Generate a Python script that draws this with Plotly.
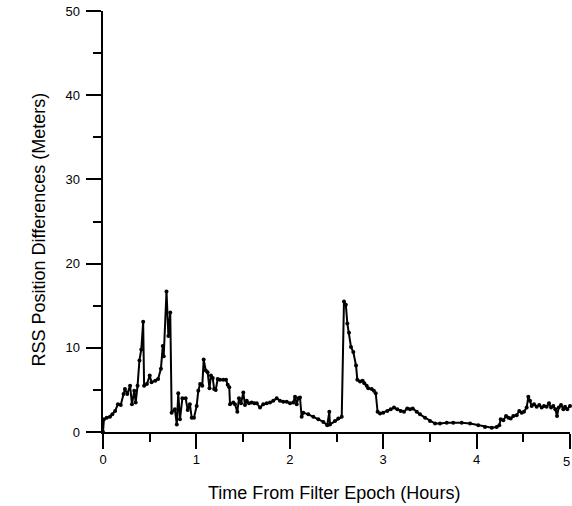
import plotly.graph_objects as go

hours = [0.0, 0.01, 0.04, 0.075, 0.10, 0.13, 0.16, 0.19, 0.22, 0.235, 0.26, 0.29, 0.31, 0.335, 0.35, 0.37,
         0.39, 0.41, 0.43, 0.44, 0.47, 0.50, 0.52, 0.56, 0.59, 0.62, 0.64, 0.65, 0.68, 0.70, 0.72,
         0.735, 0.77, 0.79, 0.806, 0.824, 0.85, 0.885, 0.907, 0.93, 0.95, 0.974, 1.003, 1.02, 1.04,
         1.063, 1.078, 1.10, 1.12, 1.14, 1.156, 1.175, 1.19, 1.207, 1.228, 1.253, 1.288, 1.317, 1.335,
         1.352, 1.36, 1.395, 1.413, 1.438, 1.456, 1.478, 1.502, 1.52, 1.539, 1.563, 1.592, 1.62,
         1.646, 1.681, 1.716, 1.753, 1.788, 1.823, 1.86, 1.895, 1.93, 1.967, 2.002, 2.037, 2.056,
         2.074, 2.091, 2.109, 2.127, 2.145, 2.198, 2.252, 2.305, 2.359, 2.401, 2.423, 2.43, 2.484,
         2.519, 2.556, 2.58, 2.6, 2.616, 2.634, 2.655, 2.68, 2.709, 2.723, 2.752, 2.78, 2.798, 2.823,
         2.84, 2.877, 2.9, 2.92, 2.94, 2.966, 3.0, 3.044, 3.08, 3.116, 3.151, 3.187, 3.223, 3.258,
         3.287, 3.316, 3.359, 3.394, 3.448, 3.501, 3.555, 3.608, 3.68, 3.75, 3.84, 3.93, 4.018, 4.09,
         4.162, 4.215, 4.243, 4.258, 4.286, 4.315, 4.34, 4.365, 4.393, 4.429, 4.457, 4.483, 4.507,
         4.536, 4.554, 4.572, 4.59, 4.615, 4.643, 4.671, 4.697, 4.722, 4.75, 4.775, 4.797, 4.821,
         4.843, 4.861, 4.879, 4.904, 4.929, 4.947, 4.971, 5.0]

rss_m = [0.0, 1.5, 1.7, 1.8, 2.1, 2.5, 3.3, 3.2, 4.5, 5.1, 4.5, 5.5, 3.3, 4.9, 3.5, 5.5,
         8.5, 9.8, 13.1, 5.5, 5.7, 6.7, 5.9, 6.1, 6.3, 7.5, 10.2, 9.0, 16.7, 11.4, 14.2,
         2.3, 2.7, 0.9, 4.6, 1.5, 4.0, 4.0, 2.6, 3.3, 1.7, 1.7, 3.1, 4.9, 5.7,
         5.5, 8.6, 7.3, 7.1, 5.2, 6.7, 6.4, 5.1, 5.0, 6.3, 6.2, 6.2, 6.2, 5.6,
         5.3, 3.3, 3.5, 3.3, 2.4, 4.0, 3.4, 4.7, 3.2, 3.7, 3.4, 3.5, 3.4,
         3.4, 2.9, 3.3, 3.4, 3.5, 3.7, 4.0, 3.7, 3.6, 3.6, 3.4, 3.5, 4.2,
         3.3, 4.0, 4.1, 1.8, 2.3, 2.1, 1.8, 1.5, 1.2, 0.8, 2.4, 0.9, 1.3,
         1.6, 1.8, 15.5, 15.1, 12.9, 11.8, 10.1, 9.5, 7.9, 6.2, 6.0, 6.1, 5.8, 5.5,
         5.2, 5.1, 4.9, 4.6, 2.4, 2.2, 2.3, 2.5, 2.7, 2.9, 2.7, 2.5, 2.4, 2.8,
         2.7, 2.8, 2.4, 2.1, 1.7, 1.3, 1.0, 1.0, 1.1, 1.1, 1.1, 1.0, 0.8, 0.6,
         0.5, 0.6, 0.8, 1.5, 1.4, 1.9, 1.7, 1.6, 1.9, 2.0, 2.5, 2.3, 2.4,
         2.9, 4.2, 3.7, 3.1, 3.3, 3.0, 3.2, 2.9, 3.1, 3.0, 3.4, 2.9, 3.1,
         2.7, 1.9, 2.9, 3.2, 2.7, 3.0, 2.7, 3.1]

x_ticks = [0, 1, 2, 3, 4, 5]
y_ticks = [0, 10, 20, 30, 40, 50]
x_title = "Time From Filter Epoch (Hours)"
y_title = "RSS Position Differences (Meters)"

FONT = "Liberation Sans, Arial, sans-serif"
TICKFONT = dict(family=FONT, size=13, color="black")
TITLEFONT = dict(family=FONT, size=18, color="black")

fig = go.Figure(go.Scatter(
    x=hours, y=rss_m, mode="lines+markers",
    line=dict(color="black", width=2),
    marker=dict(color="black", size=4),
    showlegend=False, cliponaxis=False,
))

axis_common = dict(
    showgrid=False, zeroline=False, showline=True, linecolor="black", linewidth=1.5,
    ticks="outside", tickcolor="black", tickwidth=1.5, ticklen=15,
    tickfont=TICKFONT, automargin=False,
)

# last x label ("5") sits on the page edge; draw it as an annotation nudged inside the page
x_text = [str(v) for v in x_ticks[:-1]] + [""]

fig.update_xaxes(
    range=[0, 5], tickvals=x_ticks, ticktext=x_text,
    minor=dict(ticks="outside", dtick=0.5, ticklen=8, tickwidth=1.5, tickcolor="black"),
    **axis_common,
)
fig.update_yaxes(
    range=[0, 50], tickvals=y_ticks, ticktext=[str(v) + " " for v in y_ticks],
    minor=dict(ticks="outside", dtick=5, ticklen=8, tickwidth=1.5, tickcolor="black"),
    **axis_common,
)

fig.add_annotation(x=x_ticks[-1], xref="x", y=-0.07, yref="paper", text=str(x_ticks[-1]),
                   showarrow=False, font=TICKFONT, xanchor="center", yanchor="middle", xshift=-4)
fig.add_annotation(x=0.4946, xref="paper", y=-0.145, yref="paper", text=x_title,
                   showarrow=False, font=TITLEFONT, xanchor="center", yanchor="middle")
fig.add_annotation(x=-0.135, xref="paper", y=0.481, yref="paper", text=y_title, textangle=-90,
                   showarrow=False, font=TITLEFONT, xanchor="center", yanchor="middle")

fig.update_layout(
    width=572, height=506,
    margin=dict(l=103, r=2, t=11, b=74),
    paper_bgcolor="white", plot_bgcolor="white",
)

fig.write_html("out.html", config={"displayModeBar": False},
               post_script="document.body.style.margin='0';")
